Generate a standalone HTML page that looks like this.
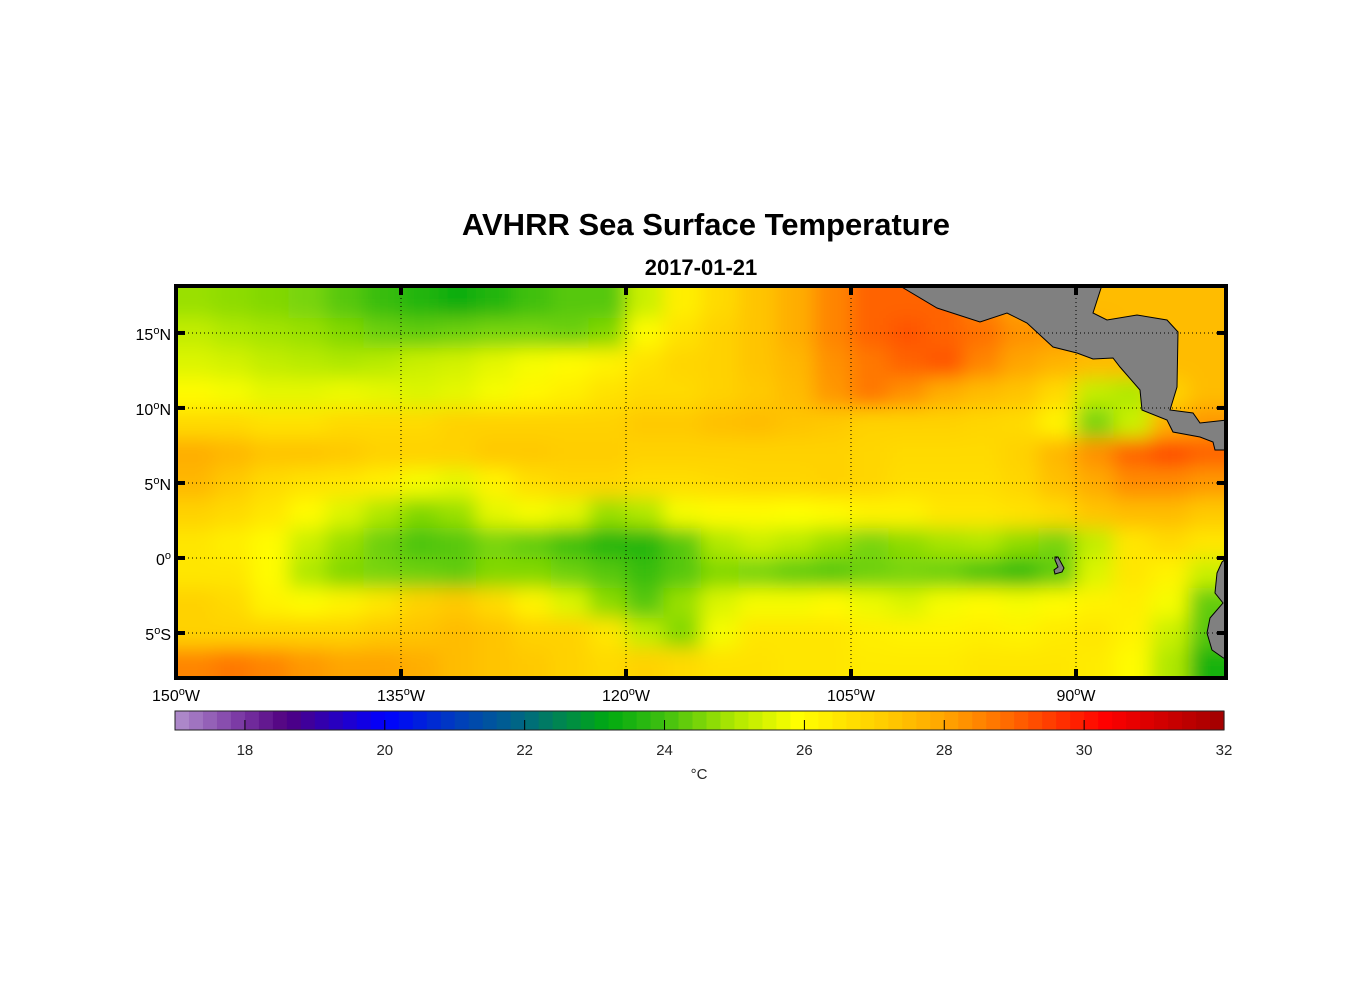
<!DOCTYPE html>
<html><head><meta charset="utf-8">
<style>
html,body{margin:0;padding:0;background:#fff;}
svg{display:block;font-family:"Liberation Sans",Arial,sans-serif;}
</style></head>
<body>
<svg id="chart" width="1356" height="1000" viewBox="0 0 1356 1000">
<defs>
  <clipPath id="mapclip"><rect x="176" y="286" width="1050" height="392"/></clipPath>
  <filter id="smooth" x="-5%" y="-5%" width="110%" height="110%"><feGaussianBlur stdDeviation="9.5"/></filter>
</defs>
<text x="706" y="235" text-anchor="middle" font-size="31" font-weight="bold">AVHRR Sea Surface Temperature</text>
<text x="701" y="275" text-anchor="middle" font-size="22" font-weight="bold">2017-01-21</text>
<g clip-path="url(#mapclip)">
  <g id="cells" filter="url(#smooth)"></g>
  <g id="land"></g>
  <g id="grid"></g>
</g>
<g id="axes"></g>
<g id="cbar"></g>
</svg>
<script>
// ---- data ----
const lons = [-148.75,-146.25,-143.75,-141.25,-138.75,-136.25,-133.75,-131.25,-128.75,-126.25,-123.75,-121.25,-118.75,-116.25,-113.75,-111.25,-108.75,-106.25,-103.75,-101.25,-98.75,-96.25,-93.75,-91.25,-88.75,-86.25,-83.75,-81.25];
const lats = [17,15,13,11,9,7,5,3,1,-1,-3,-5,-7];
const sst = [
[24.8,24.7,24.6,24.5,24.2,23.9,23.6,23.3,23.6,24,24.2,24.2,25.3,26.3,26.8,27.3,27.8,28.5,29,29,29,28.5,28,27.8,27.5,27.5,27.5,27.5],
[25.2,25,24.9,24.8,24.6,24.4,24.3,24.4,24.5,24.5,24.4,24.6,26,26.6,27,27.3,27.8,28.5,29,29.2,29,28.8,28.3,28.2,27.8,27.5,27.5,27.5],
[25.5,25.4,25.2,25.1,25,25.1,25.3,25.4,25.6,25.8,26,26.2,26.6,26.9,27,27.3,27.6,28.3,28.7,29,29.2,28.5,28,27.7,27.5,27.5,27.5,27.5],
[26,25.8,25.6,25.6,25.7,25.6,25.5,25.6,25.8,26.1,26.3,26.6,26.8,26.8,27,27.2,27.5,28.2,28.7,28.3,27.8,27.5,27.3,26.8,25.2,25,27,27.5],
[26.8,26.8,26.6,26.6,26.8,26.8,26.8,27,27,27,27,27,27.2,27.2,27.4,27.5,27.3,27.2,27,27,27,26.9,26.8,26.2,24.5,25.3,27.8,28.2],
[27.8,27.6,27.3,27.3,27.2,27,27,27,27.2,27.2,27.1,27.1,27,27,27,27,27,27,26.9,26.8,26.8,26.8,27,27.6,28.3,29,29.3,29],
[27.6,27.2,26.8,26.6,26.5,26.3,25.8,25.6,26.2,26.7,26.9,26.9,26.7,26.7,26.8,26.9,26.9,27,26.9,26.7,26.7,26.7,26.9,27.4,27.9,28.4,28.4,28.2],
[27,26.8,26.5,26,25.5,25,24.6,24.8,25.6,25.8,25.6,24.8,25,25.8,26,26,25.9,26,26.2,26.2,26.5,26.5,26.6,26.8,27.3,27.5,27.5,27.2],
[26.5,26.3,26,25.3,24.8,24.4,24.1,24.2,24.5,24.3,24,23.6,23.6,24.2,25,25.3,25.1,24.8,24.5,24.7,24.9,25,24.7,24.5,25.2,26.5,26.8,26.5],
[26.5,26.5,26,25,24.6,24.5,24.4,24.3,24.6,24.6,24.4,24.2,23.9,24.2,24.6,24.5,24.3,24.2,24.4,24.5,24.4,24.1,23.8,24.3,25.5,26.5,26.2,25.3],
[27,26.8,26.2,26,26.2,26.5,27,27.2,26.8,26.2,25.5,24.7,24.2,24.8,25.5,25.8,25.8,26,25.7,25.5,25.8,26,25.8,26,26.2,26.3,25.8,24.3],
[27,27,27,27,27,27.2,27.3,27.5,27.3,27,27,26.5,25.2,24.6,25.8,26.5,26.5,26.5,26.3,26.2,26.2,26.3,26.2,26.4,26.5,26.2,25.3,24.2],
[28.5,28.7,28.5,28.2,28,28,27.8,27.5,27.3,27.2,27,26.8,27,26.8,26.6,26.6,26.5,26.5,26.4,26.4,26.4,26.5,26.5,26.5,26.4,26,25,23.5]
];
const lonTicks = [-150,-135,-120,-105,-90];
const lonLabels = ["150","135","120","105","90"];
const latTicks = [15,10,5,0,-5];
const latLabels = ["15","10","5","0","5"];
const latSuffix = ["N","N","N","",'S'];
const cbTicks = [18,20,22,24,26,28,30,32];
const cbMin = 17, cbMax = 32;

// ---- scales ----
const X0=176, X1=1226, Y0=286, Y1=678;
const lonMin=-150, lonMax=-80, latMax=18.13, latMin=-8.0;
const xs = lon => X0 + (lon-lonMin)/(lonMax-lonMin)*(X1-X0);
const ys = lat => Y0 + (latMax-lat)/(latMax-latMin)*(Y1-Y0);
const CBX0=175, CBX1=1224, CBY0=711, CBY1=730;
const cx = v => CBX0 + (v-cbMin)/(cbMax-cbMin)*(CBX1-CBX0);

const stops=[[17,[178,144,206]],[18,[118,50,160]],[18.6,[80,0,128]],[20,[0,0,255]],[21,[0,60,190]],[22,[0,106,128]],[23.2,[0,170,16]],[24,[64,192,16]],[25,[176,232,0]],[25.9,[255,255,0]],[27,[255,210,0]],[28,[255,165,0]],[29,[255,100,0]],[30.3,[255,0,0]],[32,[160,0,0]]];
function color(v){
  if(v<=stops[0][0]) return 'rgb('+stops[0][1]+')';
  for(let i=1;i<stops.length;i++){
    if(v<=stops[i][0]){
      const a=stops[i-1],b=stops[i],t=(v-a[0])/(b[0]-a[0]);
      return 'rgb('+a[1].map((c,k)=>Math.round(c+(b[1][k]-c)*t)).join(',')+')';
    }
  }
  return 'rgb('+stops[stops.length-1][1]+')';
}
const NS='http://www.w3.org/2000/svg';
function mk(tag,attrs,parent){const e=document.createElementNS(NS,tag);for(const k in attrs)e.setAttribute(k,attrs[k]);parent.appendChild(e);return e;}

// heatmap cells
const cells=document.getElementById('cells');
const dLon=2.5, dLat=2;
lats.forEach((lat,i)=>{
  lons.forEach((lon,j)=>{
    let x=xs(lon-dLon/2), x2=xs(lon+dLon/2), y=ys(lat+dLat/2), y2=ys(lat-dLat/2);
    if(j===0) x-=40; if(j===lons.length-1) x2+=40;
    if(i===0) y-=40; if(i===lats.length-1) y2+=40;
    const r=mk('rect',{x:x,y:y,width:x2-x+0.5,height:y2-y+0.5,fill:color(sst[i][j])},cells);
    
    
  });
});

// land
const land=document.getElementById('land');
const polys=[
 ["central-america","900,286 937,308 980,322 1007,313 1027,323 1053,347 1077,353 1093,359 1113,358 1120,367 1140,390 1142,410 1167,420 1173,432 1200,437 1213,442 1215,450 1227,450 1227,420 1200,423 1193,413 1170,410 1177,387 1178,332 1167,320 1137,315 1107,320 1093,313 1102,285"],
 ["galapagos-islands","1055,557 1058,557 1064,568 1062,572 1055,574 1054,570 1058,567 1055,560"],
 ["south-america","1222,562 1217,573 1215,593 1223,603 1210,618 1207,633 1212,650 1222,657 1227,660 1227,558"]
];
polys.forEach(p=>{
  const e=mk('polygon',{points:p[1],fill:'#808080',stroke:'#000','stroke-width':1},land);
  
  
});

// graticule
const grid=document.getElementById('grid');
lonTicks.slice(1).forEach(l=>{
  const e=mk('line',{x1:xs(l),x2:xs(l),y1:Y0,y2:Y1,stroke:'#000','stroke-width':1,'stroke-dasharray':'1 3'},grid);
  
  
});
latTicks.forEach(l=>{
  const e=mk('line',{x1:X0,x2:X1,y1:ys(l),y2:ys(l),stroke:'#000','stroke-width':1,'stroke-dasharray':'1 3'},grid);
  
  
});

// axes
const ax=document.getElementById('axes');
const fr=mk('rect',{x:X0,y:Y0,width:X1-X0,height:Y1-Y0,fill:'none',stroke:'#000','stroke-width':4},ax);


lonTicks.forEach((l,i)=>{
  const x=xs(l);
  if(i>0){
    mk('rect',{x:x-2,y:Y0,width:4,height:9,fill:'#000'},ax);
    mk('rect',{x:x-2,y:Y1-9,width:4,height:9,fill:'#000'},ax);
  }
  const t=mk('text',{x:x,y:701,'text-anchor':'middle','font-size':16},ax);
  t.innerHTML=lonLabels[i]+'<tspan dy="-6" font-size="11">o</tspan><tspan dy="6">W</tspan>';
  
  
});
latTicks.forEach((l,i)=>{
  const y=ys(l);
  mk('rect',{x:X0,y:y-2,width:9,height:4,fill:'#000'},ax);
  mk('rect',{x:X1-9,y:y-2,width:9,height:4,fill:'#000'},ax);
  const t=mk('text',{x:171,y:y+7,'text-anchor':'end','font-size':16},ax);
  t.innerHTML=latLabels[i]+'<tspan dy="-6" font-size="11">o</tspan><tspan dy="6">'+latSuffix[i]+'</tspan>';
  
  
});

// colorbar
const cb=document.getElementById('cbar');
const step=0.2;
for(let v=cbMin; v<cbMax-1e-6; v+=step){
  const r=mk('rect',{x:cx(v),y:CBY0,width:cx(v+step)-cx(v)+0.6,height:CBY1-CBY0,fill:color(v+step/2)},cb);
  
  
}
const cbf=mk('rect',{x:CBX0,y:CBY0,width:CBX1-CBX0,height:CBY1-CBY0,fill:'none',stroke:'#222','stroke-width':1},cb);


cbTicks.forEach(v=>{
  if(v<cbMax) mk('line',{x1:cx(v),x2:cx(v),y1:CBY1,y2:CBY1-10,stroke:'#000','stroke-width':1},cb);
  const t=mk('text',{x:cx(v),y:755,'text-anchor':'middle','font-size':15,fill:'#262626'},cb);
  t.textContent=v;
  
  
});
const u=mk('text',{x:699,y:779,'text-anchor':'middle','font-size':15,fill:'#262626'},cb);
u.textContent='°C';


</script>
</body></html>
